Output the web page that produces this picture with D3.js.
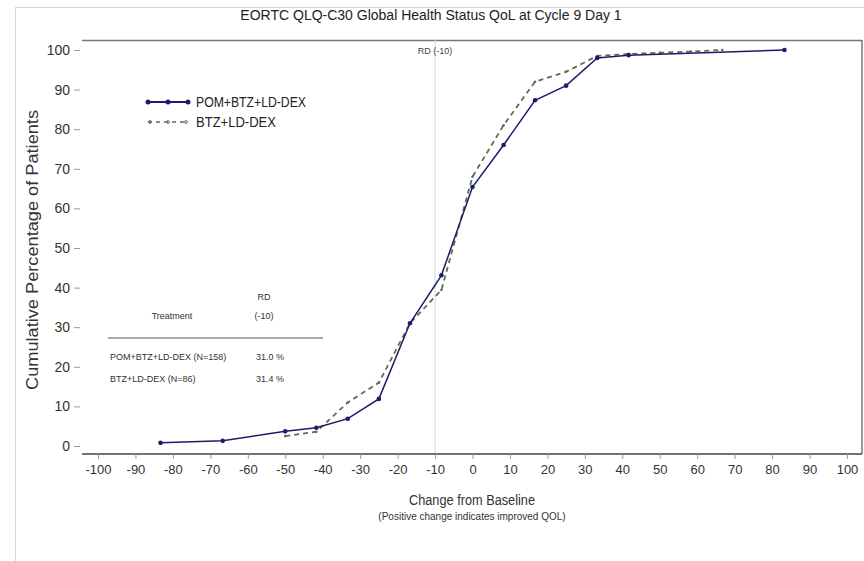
<!DOCTYPE html>
<html><head><meta charset="utf-8">
<script src="https://cdn.jsdelivr.net/npm/d3@7"></script>
<style>
body{margin:0;background:#fff;}
svg{display:block;font-family:"Liberation Sans Narrow","Arial Narrow","Liberation Sans",sans-serif;}
</style></head>
<body><svg id="c" width="864" height="561"></svg>
<script>
const xTicks = [-100,-90,-80,-70,-60,-50,-40,-30,-20,-10,0,10,20,30,40,50,60,70,80,90,100];
const yTicks = [0,10,20,30,40,50,60,70,80,90,100];
const pomX = [-83.3,-66.7,-50,-41.7,-33.3,-25,-16.7,-8.3,0,8.3,16.7,25,33.3,41.7,83.3];
const pomY = [0.8,1.3,3.7,4.6,6.9,11.9,31.0,43.1,65.4,76.0,87.3,91.0,98.0,98.7,100];
const btzX = [-50,-41.7,-33.3,-25,-16.7,-8.3,0,8.3,16.7,25,33.3,41.7,50,58.3,66.7];
const btzY = [2.5,3.6,11.0,16.0,31.0,39.4,68.0,81.0,92.0,94.5,98.5,99.0,99.3,99.6,100];
const seriesNames = ["POM+BTZ+LD-DEX","BTZ+LD-DEX"];
const tableRows = ["POM+BTZ+LD-DEX (N=158)","BTZ+LD-DEX (N=86)"];
const tableVals = ["31.0 %","31.4 %"];
const refX = -10;

const svg = d3.select("#c");
const x = d3.scaleLinear().domain([-100,100]).range([98,847]);
const y = d3.scaleLinear().domain([0,100]).range([446,50]);
const plotTop = 40, plotBottom = 454, plotLeft = 82, plotRight = 862;

// outer frame
svg.append("line").attr("x1",15).attr("x2",864).attr("y1",7.5).attr("y2",7.5).attr("stroke","#d6d6d6");
svg.append("line").attr("x1",15.5).attr("x2",15.5).attr("y1",7).attr("y2",561).attr("stroke","#d6d6d6");

// title
svg.append("text").attr("x",431).attr("y",20).attr("text-anchor","middle")
  .attr("font-size",14).attr("fill","#222").text("EORTC QLQ-C30 Global Health Status QoL at Cycle 9 Day 1");

// plot borders
svg.append("line").attr("x1",plotLeft).attr("x2",plotRight).attr("y1",plotTop+0.5).attr("y2",plotTop+0.5).attr("stroke","#777").attr("stroke-width",1.5);
svg.append("line").attr("x1",plotRight).attr("x2",plotRight).attr("y1",plotTop).attr("y2",plotBottom).attr("stroke","#555").attr("stroke-width",1.2);

// reference line
svg.append("line").attr("x1",x(refX)).attr("x2",x(refX)).attr("y1",plotTop).attr("y2",plotBottom)
  .attr("stroke","#d4d4d4").attr("stroke-width",1);
svg.append("text").attr("x",x(refX)).attr("y",54).attr("text-anchor","middle").attr("font-size",9).attr("fill","#444").text("RD (-10)");

// x axis
const xAxis = svg.append("g").attr("transform",`translate(0,${plotBottom})`)
  .call(d3.axisBottom(x).tickValues(xTicks).tickFormat(d=>String(d)).tickSize(5).tickPadding(6).tickSizeOuter(0));
xAxis.select(".domain").attr("d",`M${plotLeft},0H${plotRight}`).attr("stroke","#444").attr("stroke-width",1.3);
xAxis.selectAll(".tick line").attr("stroke","#999");
xAxis.selectAll(".tick text").attr("font-size",13).attr("fill","#333").attr("font-family","Liberation Sans Narrow, Arial Narrow, sans-serif");

// y axis
const yAxis = svg.append("g").attr("transform",`translate(80,0)`)
  .call(d3.axisLeft(y).tickValues(yTicks).tickFormat(d=>String(d)).tickSize(6).tickPadding(4));
yAxis.select(".domain").remove();
yAxis.selectAll(".tick line").attr("stroke","#999");
yAxis.selectAll(".tick text").attr("font-size",14).attr("fill","#333").attr("font-family","Liberation Sans Narrow, Arial Narrow, sans-serif");

// axis titles
svg.append("text").attr("transform","translate(38,250) rotate(-90)").attr("text-anchor","middle")
  .attr("font-size",16).attr("fill","#333").attr("font-family","Liberation Sans, Arial, sans-serif")
  .attr("textLength",280).attr("lengthAdjust","spacingAndGlyphs").text("Cumulative Percentage of Patients");
svg.append("text").attr("x",472).attr("y",505).attr("text-anchor","middle").attr("font-size",14).attr("fill","#333")
  .attr("font-family","Liberation Sans, Arial, sans-serif")
  .attr("textLength",126).attr("lengthAdjust","spacingAndGlyphs").text("Change from Baseline");
svg.append("text").attr("x",472).attr("y",520).attr("text-anchor","middle").attr("font-size",10).attr("fill","#333")
  .text("(Positive change indicates improved QOL)");

// lines
const navy = "#1c1c6e", olive = "#5d6f4c";
const pomData = pomX.map((v,i)=>[v,pomY[i]]);
const btzData = btzX.map((v,i)=>[v,btzY[i]]);
const line = d3.line().x(d=>x(d[0])).y(d=>y(d[1]));

svg.append("path").datum(btzData).attr("d",line).attr("fill","none").attr("stroke",olive)
  .attr("stroke-width",1.8).attr("stroke-dasharray","5,4");
svg.selectAll(".bm").data(btzData).enter().append("circle").attr("cx",d=>x(d[0])).attr("cy",d=>y(d[1]))
  .attr("r",1.3).attr("fill",olive);
svg.append("path").datum(pomData).attr("d",line).attr("fill","none").attr("stroke",navy).attr("stroke-width",1.5);
svg.selectAll(".pm").data(pomData).enter().append("circle").attr("cx",d=>x(d[0])).attr("cy",d=>y(d[1]))
  .attr("r",2.3).attr("fill",navy);

// legend
const lg = svg.append("g");
lg.append("line").attr("x1",148).attr("x2",188).attr("y1",102).attr("y2",102).attr("stroke",navy).attr("stroke-width",2);
[148,168,188].forEach(cx=>lg.append("circle").attr("cx",cx).attr("cy",102).attr("r",2.5).attr("fill",navy));
lg.append("text").attr("x",196).attr("y",107).attr("font-size",14).attr("fill","#222")
  .attr("textLength",110).attr("lengthAdjust","spacingAndGlyphs").text(seriesNames[0]);
lg.append("line").attr("x1",148).attr("x2",188).attr("y1",122).attr("y2",122).attr("stroke",olive).attr("stroke-width",1.5).attr("stroke-dasharray","4,4");
[150,168,186].forEach(cx=>lg.append("circle").attr("cx",cx).attr("cy",122).attr("r",1.4).attr("fill","none").attr("stroke",olive));
lg.append("text").attr("x",196).attr("y",127).attr("font-size",14).attr("fill","#222")
  .attr("textLength",80).attr("lengthAdjust","spacingAndGlyphs").text(seriesNames[1]);

// table
const tb = svg.append("g").attr("font-size",9).attr("fill","#333");
tb.append("text").attr("x",264).attr("y",300).attr("text-anchor","middle").text("RD");
tb.append("text").attr("x",264).attr("y",319).attr("text-anchor","middle").text("(-10)");
tb.append("text").attr("x",172).attr("y",319).attr("text-anchor","middle").text("Treatment");
tb.append("line").attr("x1",108).attr("x2",323).attr("y1",338).attr("y2",338).attr("stroke","#555").attr("stroke-width",1.2);
tableRows.forEach((r,i)=>{
  tb.append("text").attr("x",110).attr("y",360+i*22).text(r);
  tb.append("text").attr("x",256).attr("y",360+i*22).text(tableVals[i]);
});
</script></body></html>
